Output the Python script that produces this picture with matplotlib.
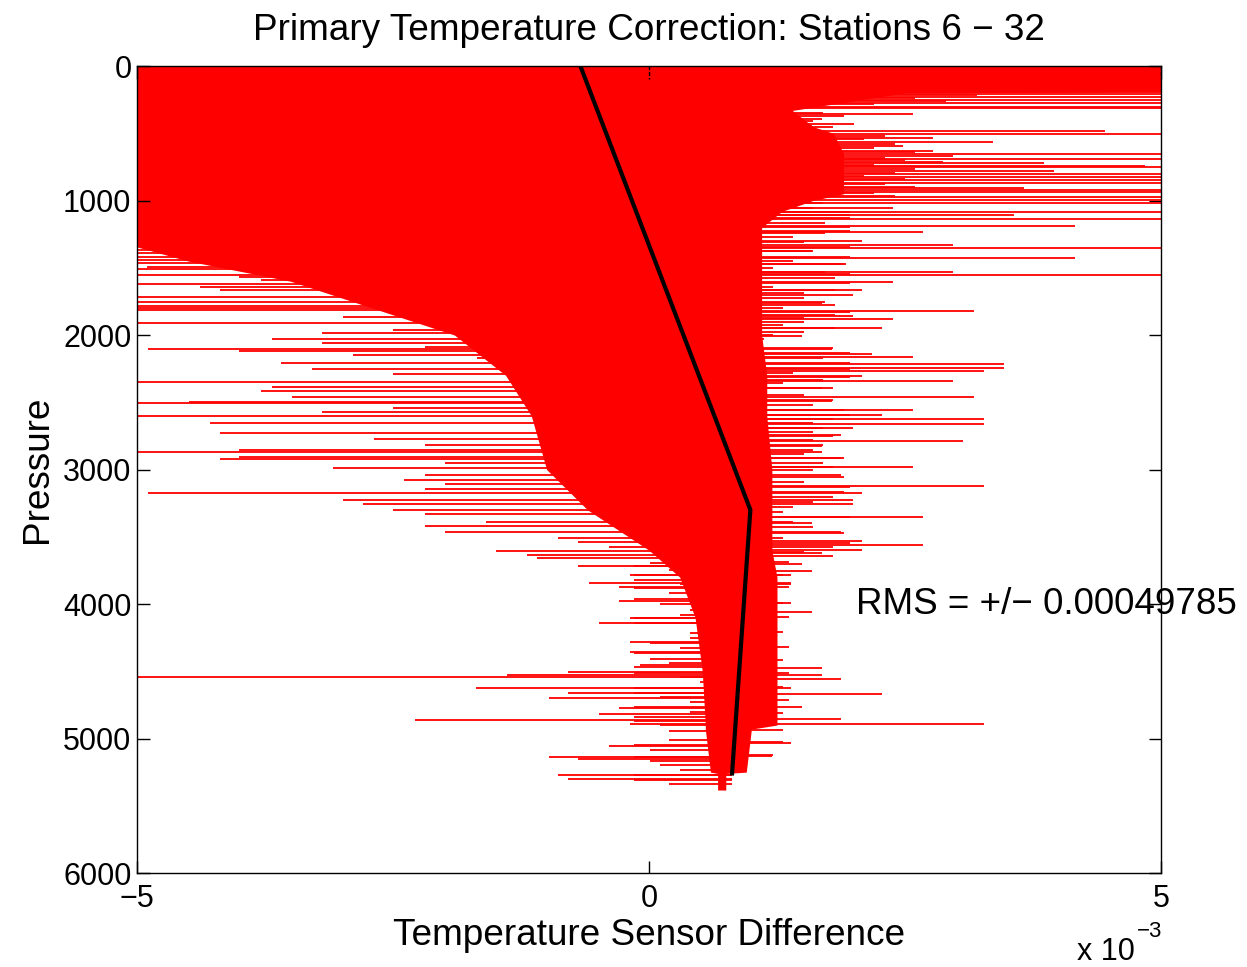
import numpy as np
import matplotlib
matplotlib.use("Agg")
import matplotlib.pyplot as plt

plt.rcParams['font.family'] = ['Liberation Sans', 'DejaVu Sans']

# ---- data (temperature difference in units of 1e-3, pressure in dbar) ----
fit_p = [0, 3300, 5275]
fit_x = [-0.67, 0.99, 0.81]

# dense (overlapping) core of the difference trace
core_p = [0, 190, 200, 330, 450, 500, 650, 950, 1000, 1080, 1200, 1240, 1450,
          1600, 1800, 2000, 2300, 2600, 3000, 3300, 3450, 3600, 3800, 4100, 4500,
          4900, 4930, 5250, 5260, 5383]
core_left = [-5.5, -5.5, -5.5, -5.5, -5.5, -5.5, -5.5, -5.5, -5.5, -5.5, -5.5, -5.5, -4.5,
             -3.5, -2.7, -1.9, -1.4, -1.15, -1.0, -0.6, -0.3, 0.0, 0.3, 0.45, 0.52,
             0.55, 0.55, 0.6, 0.67, 0.67]
core_right = [5.5, 5.5, 2.5, 1.4, 1.6, 1.8, 1.9, 1.9, 1.6, 1.3, 1.1, 1.1, 1.1,
              1.1, 1.1, 1.1, 1.15, 1.15, 1.2, 1.2, 1.2, 1.2, 1.25, 1.25, 1.25,
              1.25, 1.0, 0.95, 0.75, 0.75]

# excursions to the left of the fit
left_p = [1249, 1281, 1306, 1338, 1368, 1393, 1423, 1442, 1467, 1497, 1512, 1554, 1566, 1591,
          1604, 1621, 1641, 1665, 1683, 1720, 1735, 1752, 1782, 1802, 1814, 1839, 1864, 1913,
          1963, 1983, 2007, 2032, 2057, 2087, 2106, 2119, 2149, 2174,
          2211, 2255, 2292, 2347, 2384, 2414, 2463, 2496, 2508, 2545, 2570, 2600, 2657, 2726,
          2776, 2818, 2855, 2870, 2905, 2924, 2949, 2991, 3041, 3078, 3108, 3145, 3175, 3227,
          3259, 3301, 3333, 3388, 3418, 3467, 3507, 3541, 3574, 3606, 3636, 3660, 3715, 3784,
          3841, 3876, 3975, 4101,
          4144, 4280, 4355, 4454, 4503, 4528, 4545, 4622, 4664, 4701, 4776, 4818, 4862, 4892,
          5053, 5135, 5155, 5271, 5303]
left_x = [-5.5, -5.5, -5.5, -5.5, -5.5, -5.5, -5.5, -5.5, -5.5, -4.9, -5.5, -5.5, -4.0, -3.79,
          -3.19, -5.5, -4.39, -4.19, -2.89, -5.5, -2.19, -5.5, -5.5, -5.5, -5.5, -2.28, -2.99, -5.5,
          -2.5, -3.19, -1.09, -3.68, -3.19, -2.19, -4.89, -4.0, -2.89, -1.68,
          -3.59, -3.29, -2.5, -5.5, -3.68, -3.79, -3.49, -4.49, -5.5, -2.5, -3.19, -5.5, -4.29, -4.19,
          -2.69, -2.19, -4.0, -5.5, -4.0, -4.19, -1.99, -3.09, -2.19, -2.39, -1.99, -2.19, -4.89, -2.99,
          -2.79, -2.5, -2.19, -1.59, -2.19, -1.99, -0.89, -0.69, -0.39, -1.49, -1.19, -1.09, -0.69, -0.19,
          -0.59, -0.29, -0.29, -0.19,
          -0.49, -0.19, -0.19, -0.09, -0.79, -1.39, -5.5, -1.69, -0.79, -0.98, -0.29, -0.49, -2.29, -0.19,
          -0.39, -0.98, -0.69, -0.89, -0.79]

# short left excursions near the deep core
left2_p = [3693, 3718, 3747, 3785, 3822, 3851, 3884, 3921, 3965, 4000, 4045, 4082, 4107, 4139,
           4213, 4255, 4288, 4330, 4367, 4411, 4441, 4471, 4516, 4545, 4578, 4627, 4659, 4689,
           4726, 4763, 4800, 4838, 4867, 4900, 4942, 5011, 5048, 5085, 5135, 5167, 5197, 5234,
           5271, 5308, 5338]
left2_x = [0.01, -0.15, 0.2, -0.15, -0.15, 0.3, -0.15, 0.2, -0.15, 0.11, 0.4, 0.3, -0.15, -0.15,
           0.4, 0.4, 0.01, 0.3, -0.15, 0.01, 0.2, -0.15, -0.15, 0.3, 0.5, -0.15, -0.15, 0.11,
           0.4, -0.15, 0.4, -0.15, -0.15, 0.11, 0.2, 0.2, -0.15, 0.01, -0.15, 0.01, 0.11, 0.3,
           -0.15, -0.15, 0.2]

# excursions to the right of the fit
right_p = [37, 82, 129, 196, 211, 233, 253, 273, 303, 315, 339, 359, 394, 421, 443, 463, 481,
           506, 533, 563, 595, 630, 652, 669, 694, 710, 724, 743, 753, 781, 803, 828, 848, 868,
           910, 922, 934, 976, 996, 1021, 1058, 1083, 1108, 1138, 1187, 1232, 1299, 1333, 1351,
           1375, 1425, 1475, 1534, 1554, 1608, 1665, 1705, 1760, 1819, 1856, 1884, 1945, 2005,
           2107, 2141, 2161, 2218, 2248, 2266, 2303, 2342, 2397, 2459, 2491, 2558, 2595, 2625,
           2664, 2689, 2743, 2786, 2825, 2868, 2917, 2984, 3041, 3120, 3172, 3227, 3259, 3351,
           3400, 3462, 3529, 3561, 3599, 3623, 3705, 3752, 3784, 3846, 3851, 3995, 4062, 4478,
           4528, 4558, 4627, 4671, 4768, 4855, 4892, 5036, 5128]
right_x = [5.5, 5.5, 5.5, 5.5, 5.5, 5.5, 5.5, 5.5, 5.5, 5.5, 1.10, 2.58, 1.69, 1.39, 1.59, 1.39, 4.45,
           5.5, 2.77, 3.36, 2.48, 2.77, 5.5, 2.97, 5.5, 2.87, 3.86, 4.84, 5.5, 3.96, 5.5, 5.5, 5.5, 5.5,
           3.66, 5.5, 5.5, 5.5, 5.5, 5.5, 2.38, 5.5, 3.56, 5.5, 4.16, 2.68, 2.08, 2.97, 5.5,
           1.59, 4.16, 1.89, 2.97, 5.5, 2.38, 2.08, 1.99, 1.69, 3.17, 1.99, 2.38, 2.28, 1.49,
           1.79, 2.18, 2.58, 3.47, 3.47, 3.27, 2.08, 2.97, 1.69, 3.17, 1.79, 2.58, 2.28, 3.27,
           3.27, 1.99, 1.88, 3.07, 1.69, 1.69, 1.88, 2.58, 1.88, 3.27, 2.08, 1.99, 1.99, 2.68,
           1.59, 1.88, 2.08, 2.68, 2.08, 1.69, 1.49, 1.59, 1.39, 1.39, 1.39, 1.39, 1.59, 1.69,
           1.69, 1.88, 1.39, 2.28, 1.49, 1.88, 3.27, 1.39, 1.2]

# short right excursions just outside the core
right2_p = [215, 240, 262, 285, 350, 372, 410, 430, 455, 520, 545, 580, 610, 640, 680, 700,
            735, 765, 795, 815, 840, 880, 900, 945, 965,
            996, 1021, 1058, 1083, 1108, 1133, 1165, 1195, 1224, 1244, 1269, 1306, 1343, 1373,
            1398, 1418, 1447, 1472, 1504, 1529, 1547, 1579, 1611, 1641, 1665, 1690, 1727, 1752,
            1777, 1802, 1827, 1851, 1876, 1901, 1926, 1950,
            1975, 2000, 2032, 2099, 2136, 2174, 2211, 2255, 2285, 2310, 2335, 2359, 2397, 2446,
            2483, 2521, 2558, 2595, 2627, 2657, 2694, 2719, 2751, 2781, 2818, 2855, 2885, 2917,
            2954, 2979, 3004, 3053, 3090, 3128, 3165, 3202, 3239, 3276, 3314, 3351, 3388, 3425,
            3475, 3512, 3549, 3574, 3611, 3643,
            3685, 3785, 3871, 3995, 4094, 4206, 4317, 4416, 4516, 4615, 4714, 4813, 4937, 5024,
            5123, 5222]
right2_x = [3.2, 2.6, 2.9, 2.2, 1.7, 1.9, 1.6, 2.0, 1.8, 2.3, 2.1, 2.4, 2.2, 2.6, 2.3, 2.5,
            2.2, 2.6, 2.4, 2.1, 2.5, 2.3, 2.6, 2.2, 2.4,
            1.51, 1.70, 1.60, 1.96, 1.96, 1.96, 1.72, 1.96, 1.96, 1.72, 1.41, 1.51, 1.96, 1.60,
            1.02, 1.96, 1.41, 1.92, 1.21, 1.72, 1.96, 1.82, 1.96, 1.21, 1.82, 1.51, 1.51, 1.72,
            1.82, 1.31, 1.96, 1.82, 1.51, 1.51, 1.31, 1.82,
            1.51, 1.21, 1.12, 1.80, 1.96, 1.70, 1.96, 1.96, 1.41, 1.96, 1.70, 1.31, 1.80, 1.51,
            1.80, 1.60, 1.90, 1.96, 1.80, 1.60, 1.70, 1.60, 1.80, 1.60, 1.70, 1.60, 1.51, 1.90,
            1.70, 1.80, 1.60, 1.90, 1.51, 1.96, 1.90, 1.80, 1.60, 1.41, 1.31, 1.96, 1.41, 1.60,
            1.90, 1.31, 1.96, 1.80, 1.51, 1.80,
            1.37, 1.31, 1.37, 1.31, 1.37, 1.31, 1.37, 1.31, 1.37, 1.31, 1.37, 1.31, 1.31, 1.31,
            1.21, 0.92]

rms_text = "RMS = +/\u2212 0.00049785"

# ---- figure ----
fig = plt.figure(figsize=(12.47, 9.67), dpi=100)
ax = fig.add_axes([0.1099, 0.0972, 0.8211, 0.8345])

red = '#ff0000'
ax.fill_betweenx(core_p, core_left, core_right, color=red, lw=0)
for pp, xx in ((left_p, left_x), (left2_p, left2_x), (right_p, right_x), (right2_p, right2_x)):
    pp = np.array(pp, float)
    ax.hlines(pp, np.array(xx, float), np.interp(pp, fit_p, fit_x), color=red, lw=1.3)
ax.plot(fit_x, fit_p, color='black', lw=3.0, solid_capstyle='butt')

ax.set_xlim(-5, 5)
ax.set_ylim(6000, 0)
ax.set_xticks([-5, 0, 5])
ax.set_xticklabels(['\u22125', '0', '5'])
ax.set_yticks(range(0, 6001, 1000))
ax.tick_params(direction='in', length=9, width=1, top=True, right=True, labelsize=22)
ax.tick_params(axis='x', pad=8)
ax.tick_params(axis='y', pad=4)
for s in ax.spines.values():
    s.set_linewidth(1.0)

ax.set_title("Primary Temperature Correction: Stations 6 \u2212 32", fontsize=26.6, pad=19)
ax.set_xlabel("Temperature Sensor Difference", fontsize=26.6, labelpad=3)
ax.set_ylabel("Pressure", fontsize=26.6, labelpad=6)
ax.text(2.02, 4000, rms_text, fontsize=26.5, va='center', ha='left', clip_on=False)
fig.text(0.864, 0.0, 'x 10', fontsize=22, ha='left', va='bottom')
fig.text(0.912, 0.026, '\u22123', fontsize=16, ha='left', va='bottom')

fig.savefig('out.png', dpi=100)
